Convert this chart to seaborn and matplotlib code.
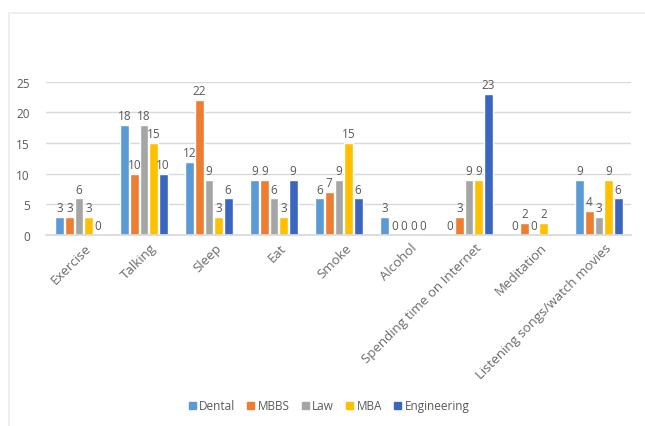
import numpy as np
import pandas as pd
import matplotlib
matplotlib.use("Agg")
import matplotlib.pyplot as plt
from matplotlib.patches import Rectangle
from matplotlib.transforms import ScaledTranslation
import seaborn as sns

categories = ["Exercise", "Talking", "Sleep", "Eat", "Smoke", "Alcohol",
              "Spending time on Internet", "Meditation",
              "Listening songs/watch movies"]
groups = ["Dental", "MBBS", "Law", "MBA", "Engineering"]

dental = [3, 18, 12, 9, 6, 3, 0, 0, 9]
mbbs = [3, 10, 22, 9, 7, 0, 3, 2, 4]
law = [6, 18, 9, 6, 9, 0, 9, 0, 3]
mba = [3, 15, 3, 3, 15, 0, 9, 2, 9]
engineering = [0, 10, 6, 9, 6, 0, 23, np.nan, 6]

colors = ["#5B9BD5", "#ED7D31", "#A5A5A5", "#FFC000", "#3A66C0"]

series = dict(zip(groups, [dental, mbbs, law, mba, engineering]))
df = pd.DataFrame([
    {"Activity": cat, "Group": g, "Count": vals[i]}
    for g, vals in series.items() for i, cat in enumerate(categories)
])

sns.set_theme(style="white")
plt.rcParams["font.family"] = ["Open Sans", "DejaVu Sans"]

fig = plt.figure(figsize=(6.45, 4.27), dpi=100)
ax = fig.add_axes([0.072, 0.447, 0.907, 0.359])

sns.barplot(data=df, x="Activity", y="Count", hue="Group",
            order=categories, hue_order=groups, palette=colors,
            width=0.74, gap=0.08, saturation=1, errorbar=None, ax=ax)

for cont in ax.containers:
    labels = [f"{v:g}" if np.isfinite(v) else "" for v in cont.datavalues]
    ax.bar_label(cont, labels=labels, padding=2, fontsize=8.5,
                 color="#595959", clip_on=False)

ax.set_ylim(0, 25)
ax.set_yticks([0, 5, 10, 15, 20, 25])
ax.yaxis.grid(True, color="#D9D9D9", linewidth=1)
ax.set_axisbelow(True)
for side in ["top", "right", "left"]:
    ax.spines[side].set_visible(False)
ax.spines["bottom"].set_color("#D9D9D9")
ax.tick_params(axis="both", length=0, labelsize=8.5, colors="#595959")
ax.tick_params(axis="y", pad=12)
ax.tick_params(axis="x", pad=4)
ax.set_xticks(range(len(categories)))
ax.set_xticklabels(categories, rotation=45, ha="right", va="top",
                   rotation_mode="anchor", fontsize=9.5, color="#6A6A6A")
shift = ScaledTranslation(6 / 100, 0, fig.dpi_scale_trans)
for lbl in ax.get_xticklabels():
    lbl.set_transform(lbl.get_transform() + shift)
ax.set_xlabel("")
ax.set_ylabel("")

ax.legend_.remove()
handles = [Rectangle((0, 0), 1, 1, color=c) for c in colors]
fig.legend(handles, groups, loc="center", bbox_to_anchor=(0.51, 0.047),
           ncol=5, frameon=False, fontsize=8.5, handlelength=0.6,
           handleheight=0.6, handletextpad=0.3, columnspacing=1.0,
           labelcolor="#595959")

# faint outer chart frame
fig.patches.append(Rectangle((9 / 645, -0.01), 1.0, 1 - 14 / 427 + 0.01,
                             transform=fig.transFigure, fill=False,
                             edgecolor="#EBEBEB", linewidth=1.2))

fig.savefig("out.png", dpi=100)
